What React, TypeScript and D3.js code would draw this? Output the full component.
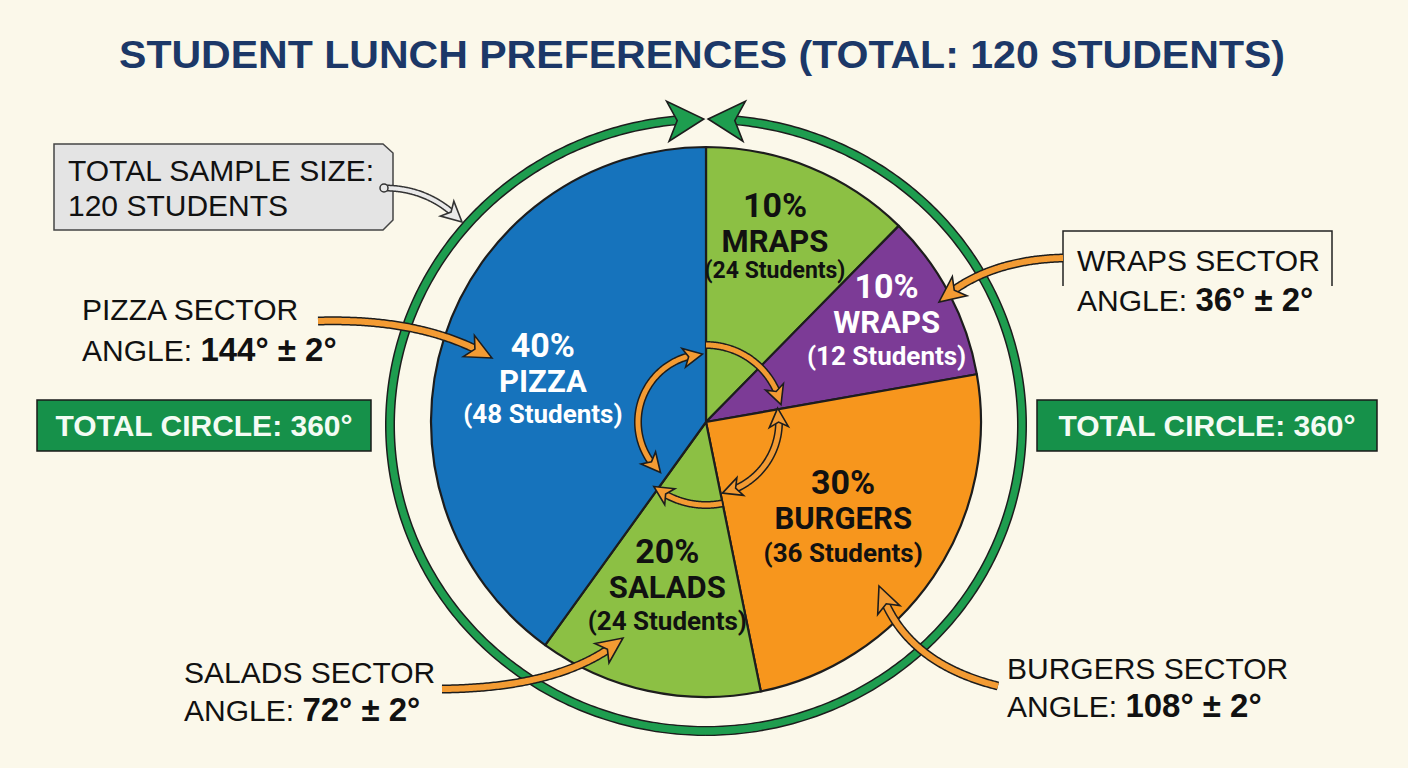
import React from "react";
import * as d3 from "d3";

// ---------- data ----------
const sectorNames = ["Wraps (green)", "Wraps", "Burgers", "Salads", "Pizza"];
const sectorDegrees = [44.5, 35.5, 88.5, 47.3, 144.2];
const pctLabels = ["10%", "10%", "30%", "20%", "40%"];
const nameLabels = ["MRAPS", "WRAPS", "BURGERS", "SALADS", "PIZZA"];
const studentLabels = ["(24 Students)", "(12 Students)", "(36 Students)", "(24 Students)", "(48 Students)"];
const titleText = "STUDENT LUNCH PREFERENCES (TOTAL: 120 STUDENTS)";
const sampleLines = ["TOTAL SAMPLE SIZE:", "120 STUDENTS"];
const totalCircleText = "TOTAL CIRCLE: 360°";
const annotations = [
  { head: "PIZZA SECTOR", pre: "ANGLE: ", value: "144° ± 2°" },
  { head: "WRAPS SECTOR", pre: "ANGLE: ", value: "36° ± 2°" },
  { head: "SALADS SECTOR", pre: "ANGLE: ", value: "72° ± 2°" },
  { head: "BURGERS SECTOR", pre: "ANGLE: ", value: "108° ± 2°" },
];

// ---------- styles / layout ----------
const W = 1408, H = 768;
const CX = 706, CY = 422, R = 275;
const sectorColors = ["#8cc044", "#7c3b96", "#f7961d", "#8cc044", "#1673bc"];
const labelColors = ["#111", "#fff", "#111", "#111", "#fff"];
const labelRadius = [193, 206, 168, 170, 168];
const labelShift = [-1.3, -1, 1, 1, -4];
const studentFont = [23, 26, 26, 26, 26];
const studentGap = [26, 32, 33, 32, 31];
const ORANGE = "#f39b33";
const DARK = "#1d1d1d";
const RING = "#1e9d4f";
const BOXGREEN = "#16914a";
const FONT = "Roboto, 'Liberation Sans', sans-serif";
const AFONT = "'Liberation Sans', Arial, sans-serif";

type P = [number, number];

function arcPts(cx: number, cy: number, rx: number, ry: number, a0: number, a1: number, n = 120): P[] {
  const pts: P[] = [];
  for (let i = 0; i <= n; i++) {
    const a = ((a0 + (a1 - a0) * (i / n)) * Math.PI) / 180;
    pts.push([cx + rx * Math.sin(a), cy - ry * Math.cos(a)]);
  }
  return pts;
}
function quadPts(p0: P, p1: P, p2: P, n = 120): P[] {
  const pts: P[] = [];
  for (let i = 0; i <= n; i++) {
    const t = i / n, u = 1 - t;
    pts.push([u * u * p0[0] + 2 * u * t * p1[0] + t * t * p2[0], u * u * p0[1] + 2 * u * t * p1[1] + t * t * p2[1]]);
  }
  return pts;
}

function backFromEnd(pts: P[], d: number): { p: P; idx: number } {
  let acc = 0;
  for (let i = pts.length - 1; i > 0; i--) {
    const a = pts[i], b = pts[i - 1];
    const seg = Math.hypot(a[0] - b[0], a[1] - b[1]);
    if (acc + seg >= d) {
      const t = (d - acc) / seg;
      return { p: [a[0] + (b[0] - a[0]) * t, a[1] + (b[1] - a[1]) * t], idx: i - 1 };
    }
    acc += seg;
  }
  return { p: pts[0], idx: 0 };
}

function trimEnd(pts: P[], len: number, keep: number): { pts: P[]; dir: P; tip: P } {
  const tip = pts[pts.length - 1];
  const dp = backFromEnd(pts, len).p;
  const cut = backFromEnd(pts, keep);
  const dx = tip[0] - dp[0], dy = tip[1] - dp[1];
  const m = Math.hypot(dx, dy) || 1;
  return { pts: [...pts.slice(0, cut.idx + 1), cut.p], dir: [dx / m, dy / m], tip };
}

function headPoly(tip: P, dir: P, len: number, width: number): string {
  const perp: P = [-dir[1], dir[0]];
  const base: P = [tip[0] - dir[0] * len, tip[1] - dir[1] * len];
  const notch: P = [tip[0] - dir[0] * len * 0.74, tip[1] - dir[1] * len * 0.74];
  const l: P = [base[0] + perp[0] * width / 2, base[1] + perp[1] * width / 2];
  const r: P = [base[0] - perp[0] * width / 2, base[1] - perp[1] * width / 2];
  return `M${tip[0]},${tip[1]}L${l[0]},${l[1]}L${notch[0]},${notch[1]}L${r[0]},${r[1]}Z`;
}

const line = d3.line<P>().x((d) => d[0]).y((d) => d[1]);

function Arrow({ pts, start = false, end = true, sw = 6, hl = 22, hw = 22, fill = ORANGE, outline = DARK }: {
  pts: P[]; start?: boolean; end?: boolean; sw?: number; hl?: number; hw?: number; fill?: string; outline?: string;
}) {
  let shaft = pts;
  const heads: string[] = [];
  if (end) {
    const t = trimEnd(shaft, hl, hl * 0.72);
    heads.push(headPoly(t.tip, t.dir, hl, hw));
    shaft = t.pts;
  }
  if (start) {
    const rev = [...shaft].reverse();
    const t = trimEnd(rev, hl, hl * 0.72);
    heads.push(headPoly(t.tip, t.dir, hl, hw));
    shaft = t.pts.reverse();
  }
  return (
    <g>
      <path d={line(shaft) || ""} fill="none" stroke={outline} strokeWidth={sw + 3} />
      <path d={line(shaft) || ""} fill="none" stroke={fill} strokeWidth={sw} />
      {heads.map((h, i) => (
        <path key={i} d={h} fill={fill} stroke={outline} strokeWidth={1.6} strokeLinejoin="miter" />
      ))}
    </g>
  );
}

function AnnotText({ x, y, a, gap = 40 }: { x: number; y: number; a: (typeof annotations)[number]; gap?: number }) {
  return (
    <text x={x} y={y} fontFamily={AFONT} fontSize={30} fill="#111">
      <tspan x={x}>{a.head}</tspan>
      <tspan x={x} dy={gap}>
        {a.pre}
        <tspan fontWeight="bold" fontSize={33}>{a.value}</tspan>
      </tspan>
    </text>
  );
}

export default function App() {
  const pieGen = d3.pie<number>().sort(null).value((d) => d);
  const arcs = pieGen(sectorDegrees);
  const arcGen = d3.arc<d3.PieArcDatum<number>>().innerRadius(0).outerRadius(R);

  const RCX = 706, RCY = 425, RRX = 316, RRY = 306;
  const ringLeft = arcPts(RCX, RCY, RRX, RRY, 180, 359.6, 240);
  const ringRight = arcPts(RCX, RCY, RRX, RRY, 180, 0.4, 240);

  return (
    <svg width={W} height={H} style={{ position: "absolute", left: 0, top: 0, display: "block" }}>
      <rect x={0} y={0} width={W} height={H} fill="#fbf8ea" />
      <text x={119} y={68} fontFamily="'Liberation Sans', Arial, sans-serif" fontWeight="bold" fontSize={39} fill="#1c3868" textLength={1166} lengthAdjust="spacingAndGlyphs">
        {titleText}
      </text>

      {/* outer ring */}
      <Arrow pts={ringLeft} sw={7} hl={36} hw={40} fill={RING} />
      <Arrow pts={ringRight} sw={7} hl={36} hw={40} fill={RING} />
      <path d={line(arcPts(RCX, RCY, RRX, RRY, 170, 190, 20)) || ""} fill="none" stroke={RING} strokeWidth={7} />

      {/* pie */}
      <g transform={`translate(${CX},${CY})`}>
        {arcs.map((a, i) => (
          <path key={sectorNames[i]} d={arcGen(a) || ""} fill={sectorColors[i]} stroke={DARK} strokeWidth={2.2} strokeLinejoin="round" />
        ))}
      </g>

      {/* inner circular arrows */}
      <Arrow pts={arcPts(CX, CY, 68, 68, 222, 357)} start end sw={5} hl={19} hw={19} />
      <Arrow pts={arcPts(CX, CY, 77, 77, 0, 77)} end sw={5} hl={19} hw={19} />
      <Arrow pts={arcPts(CX, CY, 73, 73, 79, 167)} start end sw={5} hl={19} hw={19} />
      <Arrow pts={arcPts(CX, CY, 83, 83, 169, 219)} end sw={5} hl={19} hw={19} />

      {/* sector labels */}
      {arcs.map((a, i) => {
        const mid = (a.startAngle + a.endAngle) / 2 + (labelShift[i] * Math.PI) / 180;
        const x = CX + labelRadius[i] * Math.sin(mid);
        const y = CY - labelRadius[i] * Math.cos(mid) + 10;
        return (
          <g key={"l" + i} fill={labelColors[i]} fontFamily={FONT} fontWeight="bold" textAnchor="middle">
            <text x={x} y={y - 35} fontSize={34}>{pctLabels[i]}</text>
            <text x={x} y={y} fontSize={31}>{nameLabels[i]}</text>
            <text x={x} y={y + studentGap[i]} fontSize={studentFont[i]}>{studentLabels[i]}</text>
          </g>
        );
      })}

      {/* total sample box */}
      <path d="M54,144 L383,144 L393,153 L393,220 L383,230 L54,230 Z" fill="#e4e4e4" stroke="#444" strokeWidth={1.5} />
      <text fontFamily={AFONT} fontSize={30} fill="#111">
        <tspan x={68} y={181}>{sampleLines[0]}</tspan>
        <tspan x={68} y={216}>{sampleLines[1]}</tspan>
      </text>
      <Arrow pts={quadPts([384, 188], [430, 188], [462, 222])} sw={4} hl={20} hw={20} fill="#e9e9e9" outline="#333" />
      <circle cx={384} cy={188} r={4} fill="#e9e9e9" stroke="#333" strokeWidth={1.5} />

      {/* annotations */}
      <AnnotText x={82} y={320} a={annotations[0]} gap={41} />
      <Arrow pts={quadPts([318, 321], [425, 318], [492, 358])} sw={6} hl={26} hw={24} />

      <path d="M1063,286 L1063,231 L1332,231 L1332,286" fill="none" stroke="#222" strokeWidth={1.5} />
      <AnnotText x={1077} y={271} a={annotations[1]} gap={40} />
      <Arrow pts={quadPts([1063, 258], [985, 260], [939, 302])} sw={6} hl={26} hw={24} />

      <AnnotText x={184} y={683} a={annotations[2]} gap={38} />
      <Arrow pts={quadPts([442, 689], [565, 688], [623, 638])} sw={6} hl={26} hw={24} />

      <AnnotText x={1007} y={679} a={annotations[3]} gap={38} />
      <Arrow pts={quadPts([998, 686], [902, 662], [879, 586])} sw={6} hl={26} hw={24} />

      {/* total circle boxes */}
      {[{ x: 37, w: 334 }, { x: 1037, w: 340 }].map((b, i) => (
        <g key={"tc" + i}>
          <rect x={b.x} y={400} width={b.w} height={51} fill={BOXGREEN} stroke="#1a1a1a" strokeWidth={1.5} />
          <text x={b.x + b.w / 2} y={436} textAnchor="middle" fontFamily={AFONT} fontWeight="bold" fontSize={30} fill="#f4fbf4">
            {totalCircleText}
          </text>
        </g>
      ))}
    </svg>
  );
}
